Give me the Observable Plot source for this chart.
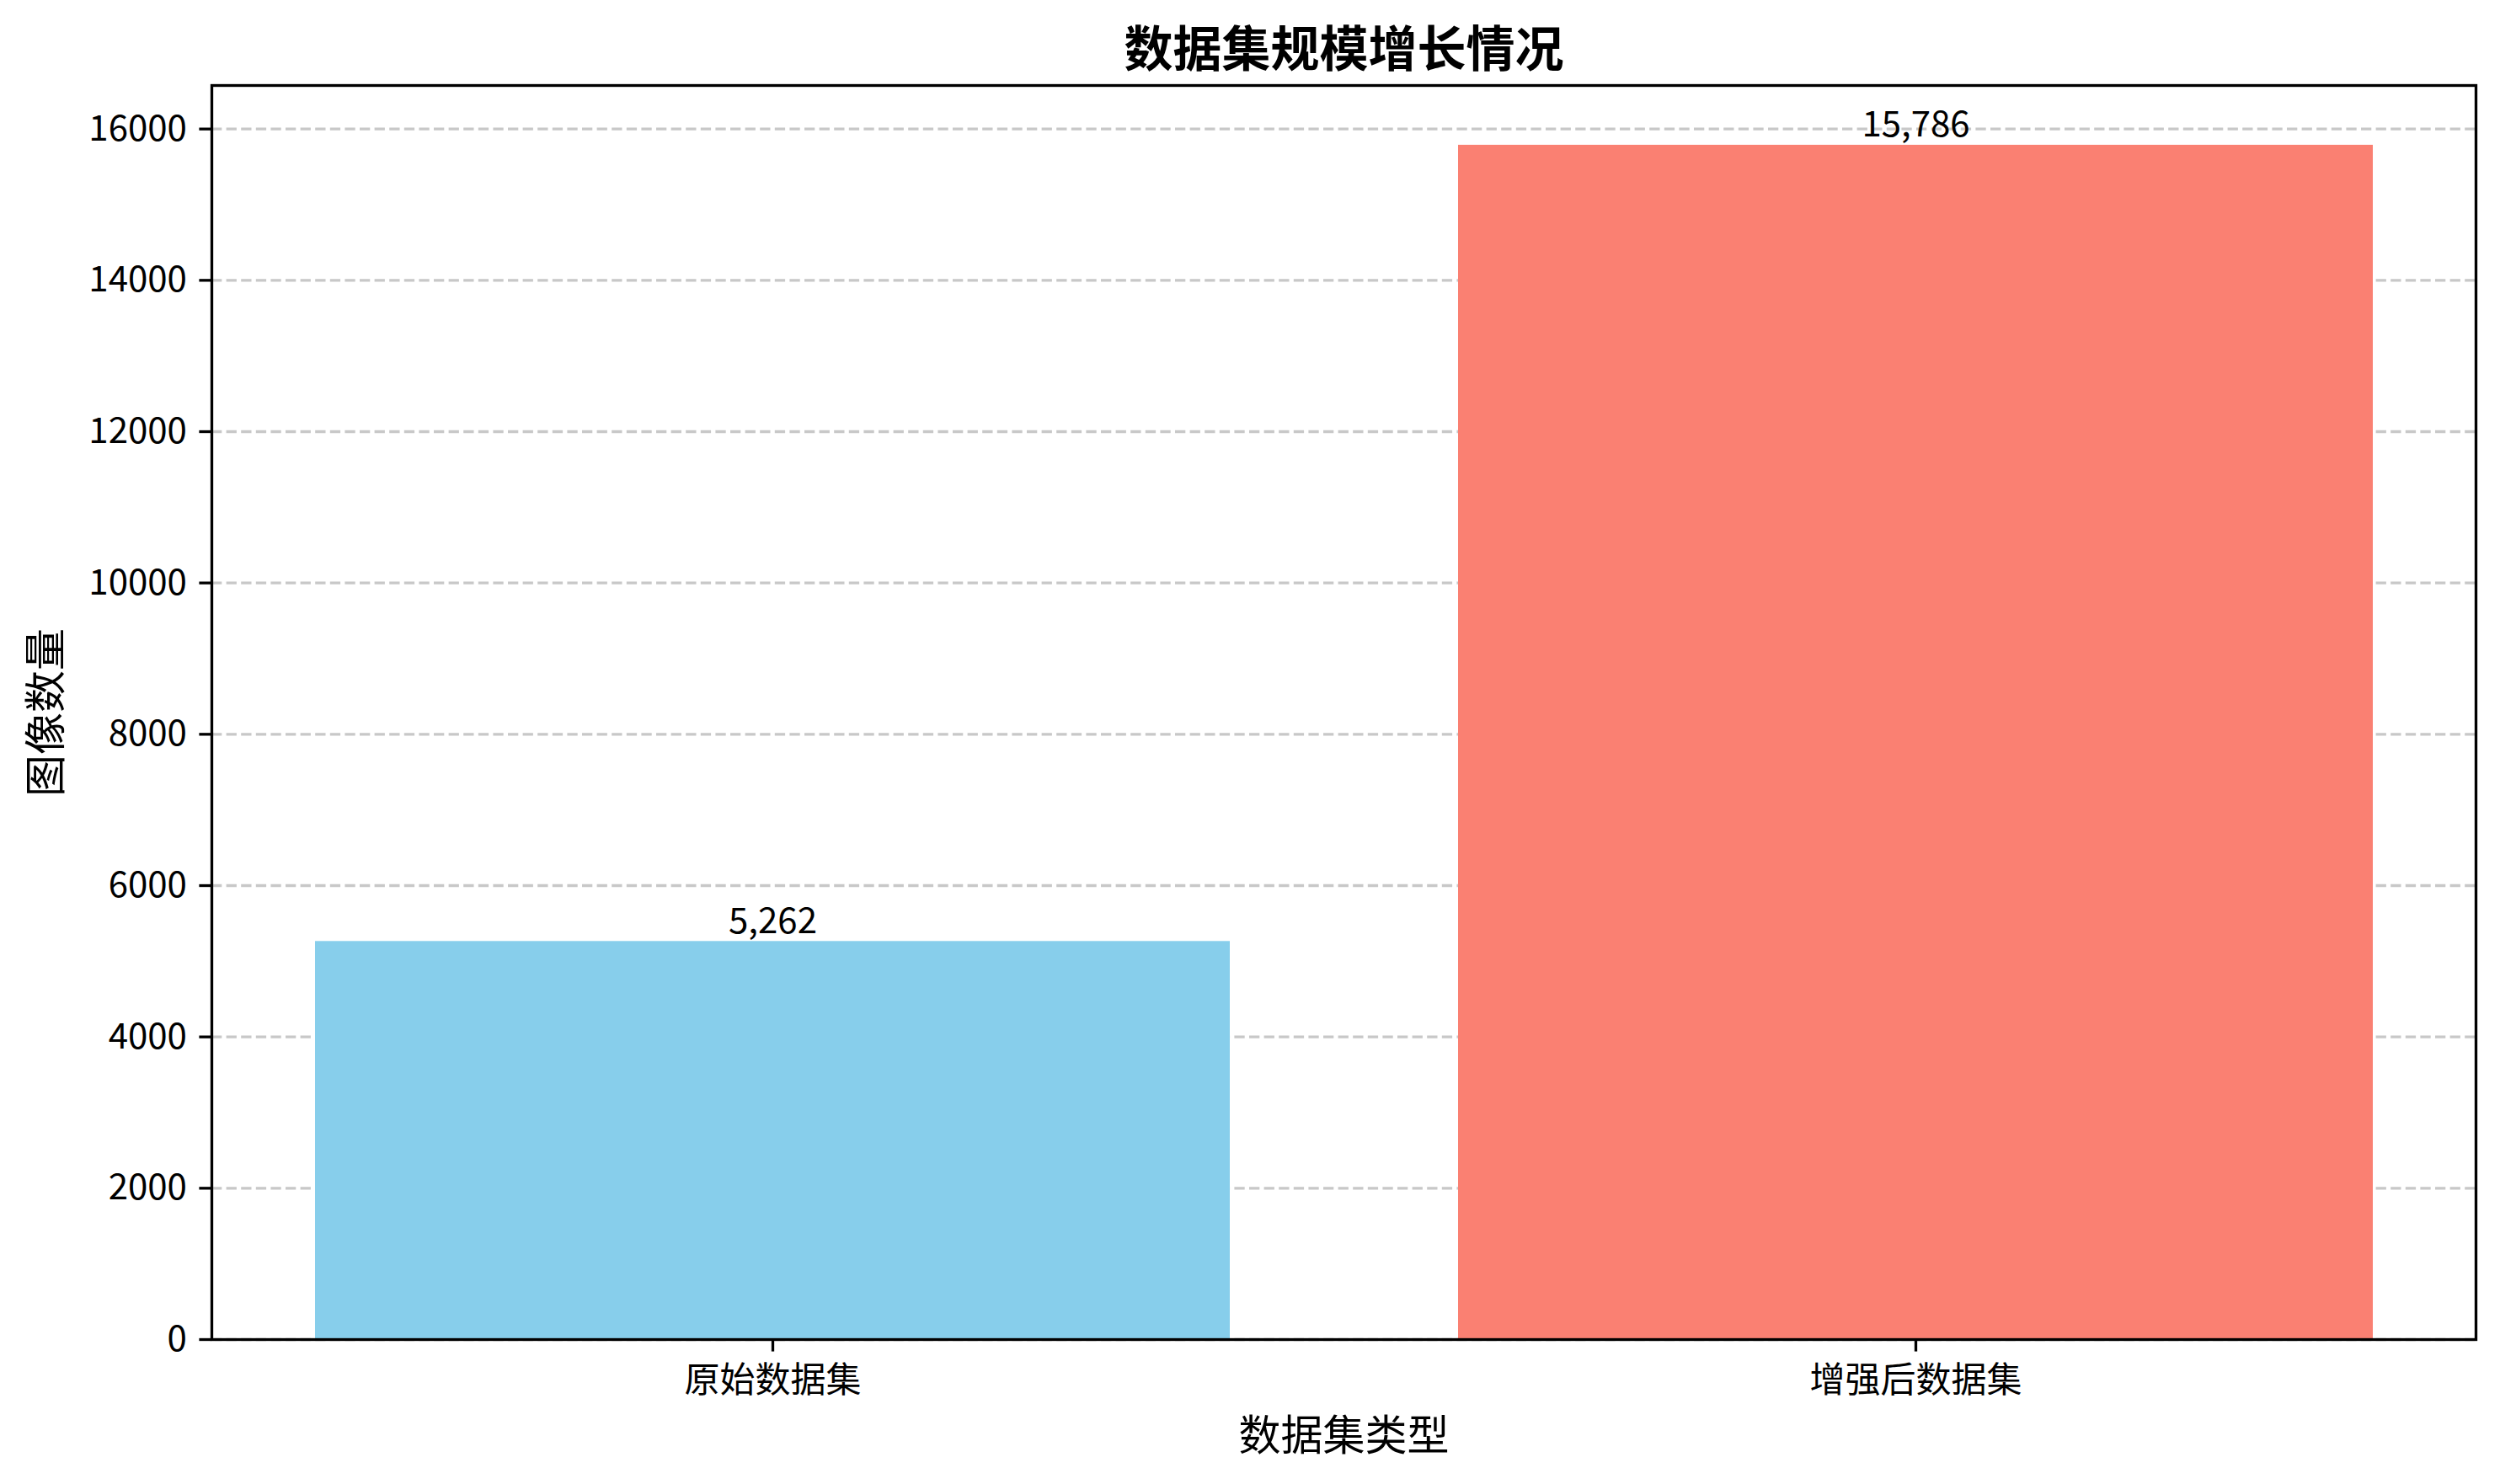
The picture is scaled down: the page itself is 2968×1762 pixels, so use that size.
<!DOCTYPE html>
<html>
<head>
<meta charset="utf-8">
<script src="https://cdn.jsdelivr.net/npm/d3@7"></script>
<script src="https://cdn.jsdelivr.net/npm/@observablehq/plot@0.6"></script>
<style>
  html, body { margin: 0; padding: 0; background: #fff; }
</style>
</head>
<body>
<div id="chart"></div>
<script>
const categories = ["原始数据集", "增强后数据集"];
const counts = [5262, 15786];
const barColors = ["#87CEEB", "#FA8072"];
const yTicks = [0, 2000, 4000, 6000, 8000, 10000, 12000, 14000, 16000];
const titleText = "数据集规模增长情况";
const xLabelText = "数据集类型";
const yLabelText = "图像数量";

const data = categories.map((c, i) => ({ category: c, count: counts[i] }));
const yMax = d3.max(counts) * 1.05;

const FONT = "'Noto Sans CJK SC', 'Noto Sans', sans-serif";
const LW = 3.33;

const chart = Plot.plot({
  width: 2968,
  height: 1762,
  marginLeft: 251,
  marginRight: 29,
  marginTop: 101,
  marginBottom: 172,
  style: { fontFamily: FONT, background: "#fff", color: "#000", overflow: "visible" },
  x: { domain: categories, paddingInner: 0.2, paddingOuter: 0.09, label: null },
  y: { domain: [0, yMax], label: null },
  color: { domain: categories, range: barColors },
  marks: [
    Plot.gridY(yTicks, { stroke: "#c8c8c8", strokeOpacity: 1, strokeWidth: LW, strokeDasharray: "12.3,5.3" }),
    Plot.barY(data, { x: "category", y: "count", fill: "category" }),
    Plot.text(data, {
      x: "category", y: "count",
      text: d => d3.format(",")(d.count),
      lineAnchor: "bottom", dy: -10, fontSize: 42, fill: "#000"
    }),
    Plot.frame({ stroke: "#000", strokeWidth: LW }),
    Plot.axisY(yTicks, {
      tickSize: 14.6, tickPadding: 15, fontSize: 42, strokeWidth: LW,
      tickFormat: d => String(d), label: null
    }),
    Plot.axisX({
      tickSize: 14.6, tickPadding: 18, fontSize: 42, strokeWidth: LW, label: null
    }),
    Plot.text([yLabelText], {
      frameAnchor: "left", dx: -196, rotate: -90, fontSize: 50,
      textAnchor: "middle", lineAnchor: "middle", fill: "#000"
    }),
    Plot.text([xLabelText], {
      frameAnchor: "bottom", dy: 131, fontSize: 50,
      textAnchor: "middle", lineAnchor: "bottom", fill: "#000"
    }),
    Plot.text([titleText], {
      frameAnchor: "top", dy: -23, fontSize: 58, fontWeight: "bold",
      textAnchor: "middle", lineAnchor: "bottom", fill: "#000"
    })
  ]
});

document.getElementById("chart").appendChild(chart);
</script>
</body>
</html>
